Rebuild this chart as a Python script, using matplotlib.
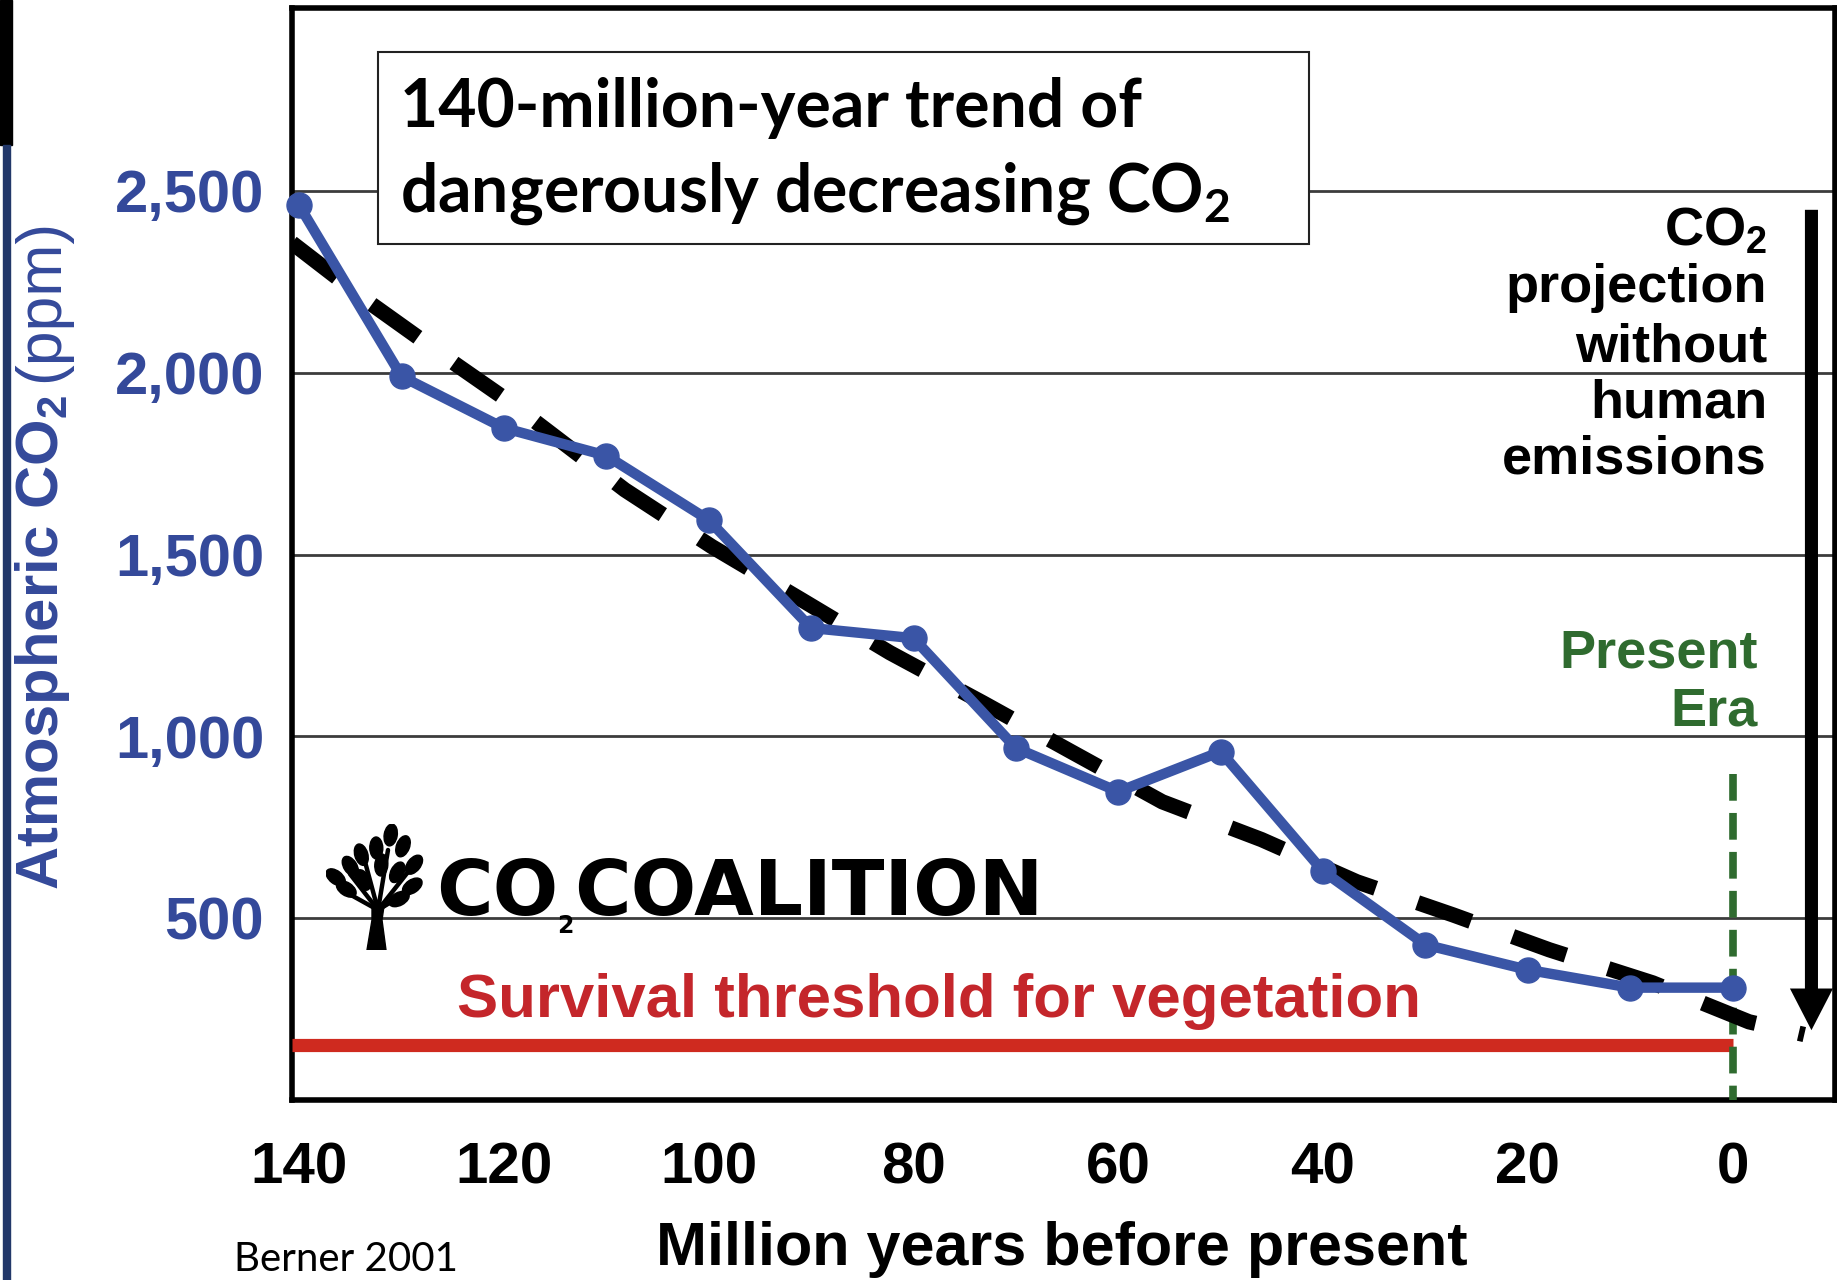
import math
import matplotlib
matplotlib.use('Agg')
import matplotlib as mpl
import matplotlib.pyplot as plt
from matplotlib.patches import Rectangle, Ellipse, Polygon
from matplotlib.transforms import IdentityTransform

mpl.rcParams['mathtext.default'] = 'regular'

W, H, DPI = 1837, 1280, 100

# ---------------- data ----------------
years = [140, 130, 120, 110, 100, 90, 80, 70, 60, 50, 40, 30, 20, 10, 0]
co2 = [2460, 1990, 1848, 1772, 1595, 1298, 1270, 968, 848, 958, 629, 427, 358, 309, 309]
trend_years = [140.7, 133.1, 124.6, 119.7, 108.2, 99.7, 90.9, 82.3, 73.2, 64.6,
               55.7, 46.0, 36.7, 27.3, 17.9, 7.8, -1.6, -7.0]
trend_co2 = [2357, 2192, 2021, 1925, 1678, 1522, 1375, 1230, 1092, 958,
             820, 716, 600, 509, 413, 322, 215, 180]
y_ticks = [500, 1000, 1500, 2000, 2500]
y_tick_labels = ['500', '1,000', '1,500', '2,000', '2,500']
x_ticks = [140, 120, 100, 80, 60, 40, 20, 0]
x_tick_labels = ['140', '120', '100', '80', '60', '40', '20', '0']
threshold_ppm = 150
threshold_from = 140.7
present_year = 0
present_line_top = 897
arrow_year = -7.7
arrow_from = 2448
arrow_to = 192
x_limits = (140.7, -10)
y_limits = (0, 3003)

BLUE = '#3a55a6'
BLUE_TXT = '#34499a'
RED = '#cf2a1f'
RED_TXT = '#c4262b'
GREEN = '#2f6b2f'
ARIAL = ['Liberation Sans', 'DejaVu Sans']
CAL = ['Lato', 'DejaVu Sans']


def fx(x):
    return x / W


def fy(y):
    return 1 - y / H


fig = plt.figure(figsize=(W / DPI, H / DPI), dpi=DPI, facecolor='white')
L, R, T, B = 292, 1835, 8, 1100
ax = fig.add_axes([fx(L), fy(B), (R - L) / W, (B - T) / H])
ax.set_xlim(*x_limits)
ax.set_ylim(*y_limits)
for s in ax.spines.values():
    s.set_linewidth(4)
    s.set_color('black')

ax.set_yticks(y_ticks, y_tick_labels)
ax.set_xticks(x_ticks, x_tick_labels)
ax.tick_params(axis='both', length=0)
ax.tick_params(axis='y', pad=20, labelsize=43, labelcolor=BLUE_TXT)
ax.tick_params(axis='x', pad=30, labelsize=42, labelcolor='black')
for lab in ax.get_xticklabels() + ax.get_yticklabels():
    lab.set_fontfamily(ARIAL)
    lab.set_fontweight('bold')
ax.grid(axis='y', color='#3c3c3c', lw=2)
ax.set_axisbelow(True)

# threshold line
ax.plot([threshold_from, present_year], [threshold_ppm, threshold_ppm], color=RED,
        lw=9.5, solid_capstyle='butt', zorder=3)
# present era dashed line
ax.plot([present_year, present_year], [present_line_top, y_limits[0]], color=GREEN,
        lw=5.5, dashes=(3.5, 1.6), dash_capstyle='butt', zorder=3)
# trend
ax.plot(trend_years, trend_co2, color='black', lw=11, dashes=(3.7, 2.9),
        dash_capstyle='butt', zorder=4)
# data
ax.plot(years, co2, color=BLUE, lw=7.5, marker='o', ms=18, mfc=BLUE, mec=BLUE,
        zorder=5, clip_on=False)
# projection arrow
ax.annotate('', xy=(arrow_year, arrow_to), xytext=(arrow_year, arrow_from),
            arrowprops=dict(arrowstyle='simple,head_length=30,head_width=31,tail_width=9.4',
                            mutation_scale=1, color='black', lw=0, shrinkA=0, shrinkB=0),
            zorder=6)

# ---------------- annotations ----------------
# title box
fig.add_artist(Rectangle((fx(378), fy(244)), (1309 - 378) / W, (244 - 52) / H,
                         transform=fig.transFigure, facecolor='white',
                         edgecolor='#222222', lw=1.5, zorder=2))
fig.text(fx(400), fy(127), '140-million-year trend of', family=CAL, weight='bold',
         size=47.5, va='baseline', ha='left', zorder=4)
fig.text(fx(400), fy(212), 'dangerously decreasing CO$_2$', family=CAL, weight='bold',
         size=47.5, va='baseline', ha='left', zorder=4)

# projection text
proj_lines = ['CO$_2$', 'projection', 'without', 'human', 'emissions']
proj_base = [246, 302, 361, 417, 474]
for s, yb in zip(proj_lines, proj_base):
    fig.text(fx(1767), fy(yb), s, family=ARIAL, weight='bold', size=39,
             ha='right', va='baseline', color='black')

# present era
for s, yb in zip(['Present', 'Era'], [667, 725]):
    fig.text(fx(1758), fy(yb), s, family=ARIAL, weight='bold', size=39,
             ha='right', va='baseline', color=GREEN)

# survival threshold
fig.text(fx(457), fy(1017), 'Survival threshold for vegetation', family=ARIAL,
         weight='bold', size=44.5, ha='left', va='baseline', color=RED_TXT)

# x label
fig.text(fx(1062), fy(1265), 'Million years before present', family=ARIAL,
         weight='bold', size=44, ha='center', va='baseline', color='black')

# source
fig.text(fx(234), fy(1271), 'Berner 2001', family=CAL, size=29, ha='left',
         va='baseline', color='black')

renderer = fig.canvas.get_renderer()

# y label (bold part + regular part)
t1 = fig.text(58, H - 890, 'Atmospheric CO$_2$', family=ARIAL, weight='bold', size=43,
              rotation=90, rotation_mode='anchor', ha='left', va='baseline',
              color=BLUE_TXT, transform=IdentityTransform())
bb = t1.get_window_extent(renderer)
fig.text(58, bb.y1 + 12, '(ppm)', family=ARIAL, weight='normal', size=45,
         rotation=90, rotation_mode='anchor', ha='left', va='baseline',
         color=BLUE_TXT, transform=IdentityTransform())

# CO2 coalition logo text
LOGO = ['DejaVu Sans']
c1 = fig.text(436, H - 915, 'CO', family=LOGO, weight='bold', size=55.5,
              ha='left', va='baseline', color='black', transform=IdentityTransform())
b1 = c1.get_window_extent(renderer)
c2 = fig.text(b1.x1 - 1, H - 933, '2', family=LOGO, weight='bold',
              size=17, ha='left', va='baseline', color='black',
              transform=IdentityTransform())
b2 = c2.get_window_extent(renderer)
fig.text(b2.x1 + 1, H - 915, 'COALITION', family=LOGO, weight='bold',
         size=55.5, ha='left', va='baseline', color='black', transform=IdentityTransform())

# tree logo
lax = fig.add_axes([fx(326), fy(950), 100 / W, 126 / H])
lax.set_xlim(0, 100)
lax.set_ylim(126, 0)
lax.axis('off')
lax.add_patch(Polygon([(41, 126), (60, 126), (56, 96), (58, 82), (52, 76), (46, 82), (46, 96)],
                      closed=True, color='black'))
hub = (52, 86)
for ex, ey in [(24, 50), (82, 48), (62, 26), (38, 34), (88, 64), (16, 66), (72, 72)]:
    lax.plot([hub[0], ex], [hub[1], ey], color='black', lw=3.2, solid_capstyle='round')
leaves = [(64.7, 11), (50.3, 24), (77, 22.3), (35.3, 30.7), (88, 40.7), (24.3, 42.3),
          (9.7, 53.3), (86.3, 62.3), (20.3, 65), (73, 75), (55.3, 41), (37, 56),
          (71.3, 48.3)]
for lx, ly in leaves:
    ang = math.degrees(math.atan2(ly - hub[1], lx - hub[0]))
    lax.add_patch(Ellipse((lx, ly), 22, 13, angle=ang, color='black'))

# left edge border remnants
fig.add_artist(Rectangle((0, fy(145)), 12 / W, 145 / H, transform=fig.transFigure,
                         color='black', zorder=5))
fig.add_artist(Rectangle((3 / W, 0), 7 / W, fy(145), transform=fig.transFigure,
                         color='#22386a', zorder=5))

fig.savefig('out.png', dpi=DPI, facecolor='white')
